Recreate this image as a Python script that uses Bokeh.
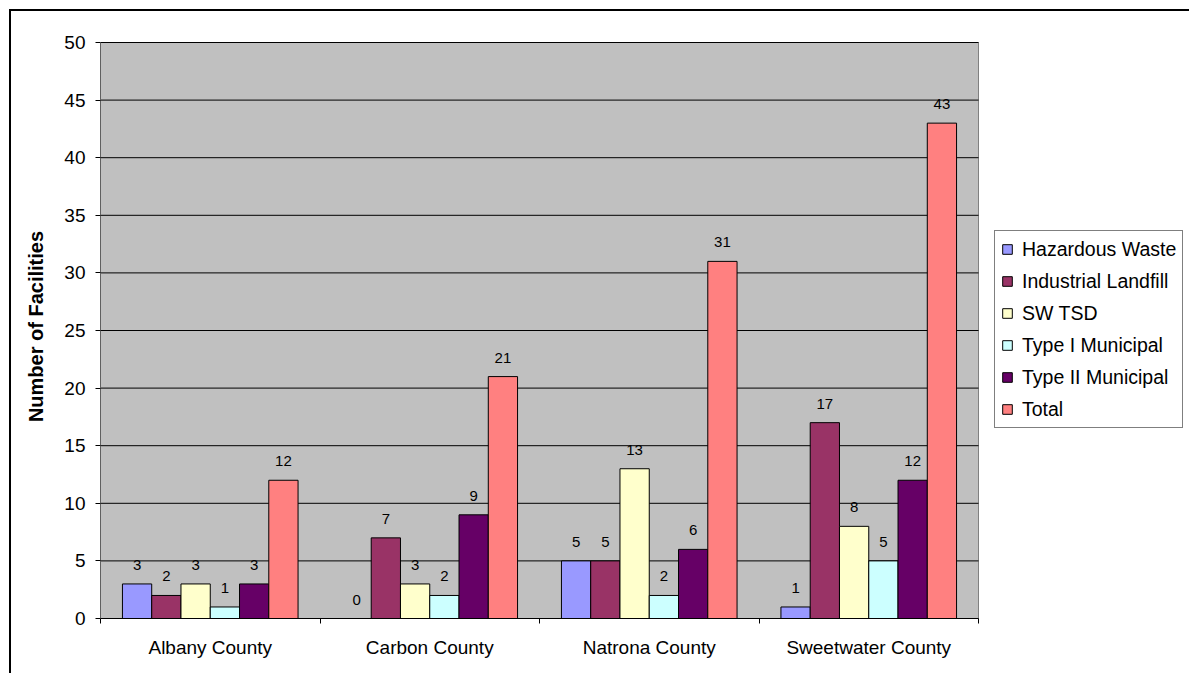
from bokeh.plotting import figure
from bokeh.models import (ColumnDataSource, FixedTicker, LabelSet, Legend,
                          LegendItem, Range1d)
from bokeh.core.properties import value
from bokeh.embed import file_html
from bokeh.resources import INLINE

# Solid waste facilities by county
counties = ["Albany County", "Carbon County", "Natrona County", "Sweetwater County"]
series = ["Hazardous Waste", "Industrial Landfill", "SW TSD",
          "Type I Municipal", "Type II Municipal", "Total"]
hazardous_waste = [3, 0, 5, 1]
industrial_landfill = [2, 7, 5, 17]
sw_tsd = [3, 3, 13, 8]
type_i_municipal = [1, 2, 2, 5]
type_ii_municipal = [3, 9, 6, 12]
total = [12, 21, 31, 43]
colors = ["#9999FF", "#993366", "#FFFFCC", "#CCFFFF", "#660066", "#FF8080"]
y_ticks = list(range(0, 51, 5))
y_max = 50

series_values = [hazardous_waste, industrial_landfill, sw_tsd,
                 type_i_municipal, type_ii_municipal, total]

FONT = "Liberation Sans"
PAGE_W, PAGE_H = 1191, 675
# canvas sits inside a 2px frame drawn 9px from the page's top-left corner
OFF = 11
W, H = PAGE_W - OFF, PAGE_H - OFF

# plot area in page pixels; the drawing frame also covers the legend column
AREA_LEFT, AREA_RIGHT, AREA_TOP, AREA_BOTTOM = 100, 978, 42, 618
FRAME_TOP = 34
n_groups = len(counties)
x_end = n_groups * (PAGE_W - AREA_LEFT) / (AREA_RIGHT - AREA_LEFT)
y_end = y_max * (AREA_BOTTOM - FRAME_TOP) / (AREA_BOTTOM - AREA_TOP)

p = figure(width=W, height=H, output_backend="svg", toolbar_location=None,
           x_range=Range1d(0, x_end), y_range=Range1d(0, y_end),
           min_border_left=AREA_LEFT - OFF, min_border_right=0,
           min_border_top=FRAME_TOP - OFF, min_border_bottom=PAGE_H - AREA_BOTTOM)
p.margin = (9, 0, 0, 9)
p.styles = {"border-top": "2px solid black", "border-left": "2px solid black"}
p.background_fill_color = "white"
p.border_fill_color = "white"
p.outline_line_color = None
p.xgrid.visible = False
p.ygrid.visible = False

# grey plot area with its border and horizontal gridlines
p.quad(left=0, right=n_groups, bottom=0, top=y_max, fill_color="#C0C0C0",
       line_color="#808080", line_width=1, level="image")
p.segment(x0=[0] * len(y_ticks), x1=[n_groups] * len(y_ticks),
          y0=y_ticks, y1=y_ticks, line_color="black", line_width=1,
          level="underlay")

# six bars per county plus one and a half bar widths of gap
n = len(series)
bw = 1.0 / (n + 1.5)

renderers = []
for j, (name, vals, col) in enumerate(zip(series, series_values, colors)):
    xs = [i + 0.5 + (j - (n - 1) / 2) * bw for i in range(n_groups)]
    src = ColumnDataSource(dict(x=xs, top=vals, label=[str(v) for v in vals]))
    r = p.vbar(x="x", top="top", width=bw, source=src,
               fill_color=col, line_color="black", line_width=1)
    renderers.append(r)
    p.add_layout(LabelSet(x="x", y="top", text="label", source=src,
                          y_offset=14, text_align="center",
                          text_baseline="alphabetic",
                          text_font=value(FONT), text_font_size="15px",
                          text_color="black"))

# x axis: county names centred, ticks on the group boundaries
p.xaxis.bounds = (0, n_groups)
p.xaxis.ticker = FixedTicker(ticks=[i + 0.5 for i in range(n_groups)],
                             minor_ticks=list(range(n_groups + 1)))
p.xaxis.major_label_overrides = {i + 0.5: c for i, c in enumerate(counties)}
p.xaxis.major_tick_out = 0
p.xaxis.major_tick_in = 0
p.xaxis.minor_tick_out = 5
p.xaxis.minor_tick_in = 0
p.xaxis.minor_tick_line_color = "black"
p.xaxis.axis_line_color = "black"
p.xaxis.major_label_text_font = FONT
p.xaxis.major_label_text_font_size = "19px"
p.xaxis.major_label_text_color = "black"
p.xaxis.major_label_standoff = 13

# y axis
p.yaxis.bounds = (0, y_max)
p.yaxis.ticker = FixedTicker(ticks=y_ticks)
p.yaxis.major_tick_out = 5
p.yaxis.major_tick_in = 0
p.yaxis.minor_tick_out = 0
p.yaxis.minor_tick_in = 0
p.yaxis.major_tick_line_color = "black"
p.yaxis.axis_line_color = "#606060"
p.yaxis.major_label_text_font = FONT
p.yaxis.major_label_text_font_size = "19px"
p.yaxis.major_label_text_color = "black"
p.yaxis.major_label_standoff = 10
p.yaxis.axis_label = "Number of Facilities"
p.yaxis.axis_label_text_font = FONT
p.yaxis.axis_label_text_font_size = "20px"
p.yaxis.axis_label_text_font_style = "bold"
p.yaxis.axis_label_text_color = "black"
p.yaxis.axis_label_standoff = 14

# legend to the right of the grey plot area
legend = Legend(items=[LegendItem(label=s, renderers=[r])
                       for s, r in zip(series, renderers)],
                location=(894, 190), orientation="vertical",
                border_line_color="black", border_line_width=1,
                background_fill_color="white", background_fill_alpha=1,
                label_text_font=FONT, label_text_font_size="19.5px",
                label_text_color="black",
                glyph_width=12, glyph_height=12, label_standoff=9,
                label_height=24, spacing=8, padding=6, margin=0)
p.add_layout(legend, "center")

open("out.html", "w").write(file_html(p, INLINE))
